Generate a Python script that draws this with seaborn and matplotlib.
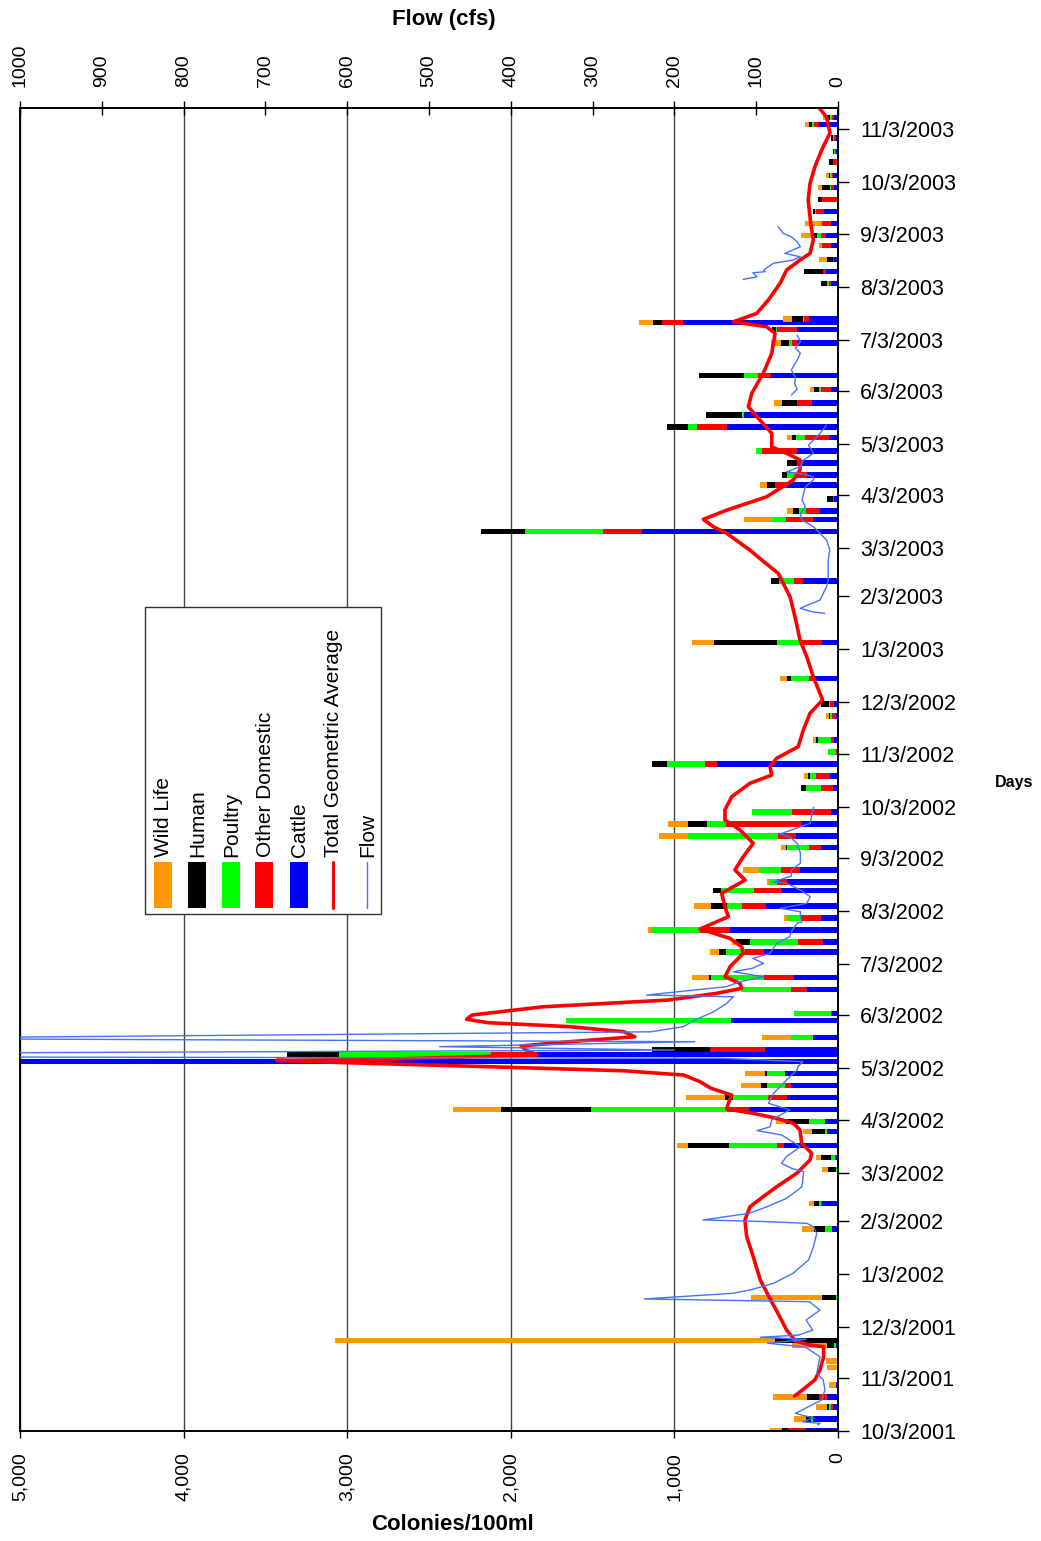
import numpy as np
import pandas as pd
import matplotlib
matplotlib.use("Agg")
import matplotlib.pyplot as plt
import matplotlib.dates as mdates
from matplotlib.patches import Rectangle
from matplotlib.lines import Line2D
import seaborn as sns

# ---------------------------------------------------------------- data
sample_dates = [
    "2001-10-03", "2001-10-10", "2001-10-17", "2001-10-23", "2001-10-30",
    "2001-11-09", "2001-11-13", "2001-11-22", "2001-11-25", "2001-12-20",
    "2002-01-29", "2002-02-13", "2002-03-05", "2002-03-12", "2002-03-19",
    "2002-03-27", "2002-04-02", "2002-04-09", "2002-04-16", "2002-04-23",
    "2002-04-30", "2002-05-07", "2002-05-11", "2002-05-14", "2002-05-21",
    "2002-05-31", "2002-06-04", "2002-06-18", "2002-06-25", "2002-07-10",
    "2002-07-16", "2002-07-23", "2002-07-30", "2002-08-06", "2002-08-15",
    "2002-08-20", "2002-08-27", "2002-09-09", "2002-09-16", "2002-09-23",
    "2002-09-30", "2002-10-14", "2002-10-21", "2002-10-28", "2002-11-04",
    "2002-11-11", "2002-11-25", "2002-12-02", "2002-12-17", "2003-01-07",
    "2003-02-12", "2003-03-13", "2003-03-20", "2003-03-25", "2003-04-01",
    "2003-04-09", "2003-04-15", "2003-04-22", "2003-04-29", "2003-05-07",
    "2003-05-13", "2003-05-20", "2003-05-27", "2003-06-04", "2003-06-12",
    "2003-07-01", "2003-07-09", "2003-07-13", "2003-07-15", "2003-08-05",
    "2003-08-12", "2003-08-19", "2003-08-27", "2003-09-02", "2003-09-09",
    "2003-09-16", "2003-09-23", "2003-09-30", "2003-10-07", "2003-10-15",
    "2003-10-21", "2003-10-29", "2003-11-06", "2003-11-10",
]
cattle = [
    198, 150, 30, 69, 15, 4, 4, 15, 5, 8,
    35, 96, 8, 14, 330, 69, 81, 544, 310, 285,
    326, 5000, 1841, 445, 155, 653, 35, 187, 269, 452,
    90, 660, 106, 442, 350, 310, 232, 102, 259, 218,
    45, 28, 49, 741, 8, 24, 14, 24, 147, 96,
    212, 1196, 151, 110, 24, 310, 187, 218, 253, 55,
    680, 574, 157, 45, 411, 249, 249, 945, 177, 45,
    75, 24, 45, 75, 45, 86, 6, 24, 30, 8,
    10, 14, 116, 24,
]
other_domestic = [
    107, 0, 13, 47, 0, 0, 0, 0, 0, 0,
    0, 10, 0, 6, 45, 0, 0, 136, 118, 41,
    0, 0, 282, 336, 0, 4, 10, 98, 183, 118,
    155, 183, 122, 143, 163, 65, 118, 75, 108, 468,
    234, 77, 88, 73, 6, 20, 20, 24, 31, 132,
    57, 238, 169, 88, 6, 77, 71, 31, 210, 149,
    179, 0, 92, 61, 81, 31, 122, 128, 31, 10,
    14, 4, 51, 31, 51, 51, 90, 20, 6, 20,
    6, 10, 31, 14,
]
poultry = [
    0, 15, 9, 0, 0, 0, 4, 11, 0, 6,
    47, 10, 6, 24, 291, 12, 96, 831, 212, 110,
    110, 0, 929, 0, 130, 1005, 224, 310, 326, 116,
    293, 301, 81, 92, 204, 47, 132, 132, 550, 116,
    244, 92, 35, 232, 45, 77, 14, 6, 112, 147,
    92, 481, 81, 41, 0, 0, 51, 0, 41, 55,
    57, 10, 0, 10, 81, 20, 10, 4, 4, 10,
    4, 0, 10, 20, 4, 4, 4, 6, 14, 4,
    6, 6, 14, 10,
]
human = [
    39, 28, 17, 71, 0, 0, 0, 40, 380, 81,
    65, 31, 47, 61, 251, 75, 143, 550, 53, 33,
    12, 0, 315, 358, 0, 0, 0, 0, 10, 41,
    88, 0, 0, 98, 45, 0, 0, 10, 0, 114,
    0, 31, 12, 88, 0, 14, 6, 51, 24, 383,
    51, 265, 0, 35, 35, 45, 31, 61, 0, 20,
    130, 224, 92, 31, 275, 51, 20, 51, 71, 41,
    114, 41, 0, 41, 0, 10, 20, 45, 6, 20,
    10, 10, 16, 20,
]
wild_life = [
    69, 73, 64, 208, 43, 65, 67, 217, 2689, 438,
    71, 31, 35, 31, 65, 55, 61, 293, 238, 126,
    122, 0, 0, 0, 178, 0, 0, 0, 102, 55,
    24, 20, 24, 106, 0, 14, 96, 31, 177, 126,
    0, 0, 24, 0, 0, 16, 20, 0, 41, 132,
    0, 0, 173, 37, 0, 45, 0, 0, 0, 35,
    0, 0, 51, 24, 0, 61, 0, 86, 51, 0,
    0, 47, 10, 61, 104, 0, 0, 26, 16, 0,
    0, 0, 26, 26,
]

# day counts from the first sampling day
START = "2001-10-03"
gm_day = [
    20.5, 24.0, 29.8, 35.7, 43.4, 49.3, 50.3, 52.6, 59.0, 68.8,
    78.5, 88.3, 101.9, 113.6, 123.4, 131.1, 137.0, 142.8, 150.7, 158.4,
    162.4, 168.2, 176.0, 179.9, 182.8, 185.7, 188.3, 191.6, 196.4, 200.4,
    204.2, 208.1, 210.6, 213.0, 215.3, 216.7, 217.3, 219.8, 222.7, 225.1,
    227.6, 230.5, 233.4, 236.4, 238.7, 240.7, 243.2, 248.0, 252.0, 255.9,
    258.8, 261.7, 265.6, 271.4, 279.3, 283.1, 288.0, 293.5, 300.7, 306.5,
    314.4, 318.2, 322.1, 328.0, 335.8, 343.6, 351.4, 357.2, 363.1, 370.8,
    378.7, 383.5, 388.4, 393.3, 400.1, 409.8, 419.6, 427.4, 441.0, 452.7,
    462.4, 476.1, 487.7, 493.6, 501.4, 509.2, 515.0, 524.8, 528.7, 533.0,
    538.4, 546.2, 556.0, 561.8, 567.7, 571.6, 575.4, 583.3, 591.0, 598.8,
    606.7, 618.4, 630.0, 641.7, 645.6, 648.5, 653.4, 661.2, 671.0, 678.8,
    684.6, 688.5, 696.3, 706.1, 719.7, 729.4, 739.2, 748.9, 758.9, 768.0,
    776.0,
]
gm_value = [
    265, 217, 142, 110, 88, 88, 174, 260, 314, 367,
    422, 475, 518, 558, 569, 538, 457, 375, 252, 171,
    161, 222, 232, 273, 375, 518, 680, 670, 650, 777,
    843, 943, 1308, 2137, 3001, 3431, 2799, 1840, 1907, 1937,
    1640, 1242, 1308, 1640, 2137, 2270, 2237, 1805, 1033, 741,
    589, 599, 691, 660, 579, 589, 660, 843, 670, 691,
    711, 640, 568, 630, 579, 518, 599, 691, 691, 650,
    538, 405, 416, 375, 243, 212, 171, 94, 151, 191,
    232, 263, 293, 324, 365, 466, 538, 680, 762, 823,
    680, 436, 273, 232, 232, 314, 405, 405, 477, 548,
    527, 457, 405, 385, 436, 640, 497, 426, 354, 314,
    232, 171, 151, 167, 182, 171, 141, 100, 49, 69,
    134,
]

# daily flow record; NaN marks periods without gauge data
flow_day = [
    3.5, 4.5, 5.4, 7.6, 10.3, 18.1, 24.0, 29.8, 33.7, 43.4,
    49.1, 51.3, 53.6, 54.8, 56.1, 59.0, 64.9, 70.7, 75.6, 77.2,
    80.5, 82.4, 86.3, 92.2, 100.0, 107.7, 115.6, 119.4, 121.4, 122.4,
    123.4, 127.3, 131.1, 136.0, 142.8, 151.6, 153.6, 156.5, 160.4, 166.2,
    173.1, 175.6, 177.9, 181.8, 185.7, 187.7, 191.6, 197.4, 205.2, 211.1,
    213.0, 215.9, 217.9, 218.8, 220.8, 222.7, 224.7, 227.6, 229.5, 233.4,
    236.4, 240.3, 245.1, 250.0, 253.9, 254.9, 259.8, 262.7, 265.6, 268.5,
    270.5, 273.4, 276.3, 279.3, 285.1, 289.0, 291.9, 296.8, 297.6, 300.7,
    303.6, 305.6, 308.5, 312.4, 316.3, 320.2, 321.1, 324.5, 328.0, 331.9,
    337.9, 343.6, 347.4, 349.0, 355.3, 364.6, np.nan,
    478.0, 479.0, 481.0, 481.9, 485.8, 493.6, 497.5, 509.2, 515.1, 520.9,
    524.8, 528.7, 532.6, 536.5, 540.4, 544.3, 552.1, 556.0, 557.9, 559.5,
    560.8, 563.8, 567.7, 571.6, 576.4, 583.3, 588.1, np.nan,
    605.7, 609.0, 612.5, 616.0, 620.3, 622.0, 626.0, 630.1, 633.0, 637.0,
    640.7, np.nan,
    673.3, 674.8, 677.2, 677.8, 678.8, 682.7, 684.6, 686.5, 688.5, 692.4,
    695.3, 698.2, 700.2, 704.1,
]
flow_cfs = [
    25, 22, 43, 30, 52, 20, 16, 18, 26, 22,
    40, 86, 39, 95, 48, 31, 39, 22, 35, 237,
    129, 108, 79, 55, 36, 30, 26, 30, 38, 87,
    165, 108, 87, 63, 44, 42, 57, 69, 63, 46,
    69, 99, 83, 81, 67, 59, 85, 79, 63, 50,
    49, 43, 142, 1200, 1200, 200, 487, 175, 1200, 229,
    189, 175, 152, 136, 128, 234, 136, 120, 91, 128,
    105, 91, 104, 83, 75, 59, 57, 50, 44, 46,
    46, 71, 38, 34, 46, 63, 79, 57, 57, 46,
    46, 50, 59, 71, 34, 30, np.nan,
    16, 32, 46, 42, 22, 14, 12, 12, 10, 14,
    22, 30, 44, 46, 40, 44, 40, 30, 30, 42,
    63, 46, 42, 30, 36, 22, 14, np.nan,
    57, 50, 53, 52, 57, 55, 50, 46, 52, 46,
    50, np.nan,
    116, 99, 104, 89, 91, 79, 55, 46, 65, 46,
    50, 57, 67, 73,
]

colony_ticks = [0, 1000, 2000, 3000, 4000, 5000]
flow_ticks = [0, 100, 200, 300, 400, 500, 600, 700, 800, 900, 1000]
date_ticks = pd.date_range("2001-10-03", "2003-11-03", freq=pd.DateOffset(months=1))

sources = [
    ("Cattle", cattle, "#0000FF"),
    ("Other Domestic", other_domestic, "#FF0000"),
    ("Poultry", poultry, "#00FF00"),
    ("Human", human, "#000000"),
    ("Wild Life", wild_life, "#FF9900"),
]
GM_COLOR = "#FF0000"
FLOW_COLOR = "#4573FF"

# ---------------------------------------------------------------- style
sns.set_theme(style="white")
plt.rcParams["font.family"] = ["Liberation Sans", "DejaVu Sans"]
plt.rcParams.update({
    "text.color": "black", "xtick.color": "black", "ytick.color": "black",
    "axes.edgecolor": "black", "axes.labelcolor": "black",
})

W, H = 1041, 1541
fig = plt.figure(figsize=(W / 100, H / 100), dpi=100)
ax = fig.add_axes([20 / W, 1 - 1431 / H, 818 / W, 1323 / H])

t0 = mdates.date2num(pd.Timestamp(START))
y_samples = mdates.date2num(pd.to_datetime(sample_dates))

# stacked source contributions, cattle nearest the zero line
left = np.zeros(len(y_samples))
for name, vals, col in sources:
    vals = np.asarray(vals, dtype=float)
    ax.barh(y_samples, vals, left=left, height=3.2, color=col,
            edgecolor="none", linewidth=0, zorder=2)
    left += vals

# total geometric average
gm_y = t0 + np.asarray(gm_day, dtype=float)
sns.lineplot(x=np.asarray(gm_value, dtype=float), y=gm_y, orient="y",
             estimator=None, sort=False, color=GM_COLOR, linewidth=2.6,
             ax=ax, zorder=4, legend=False)

ax.set_xlim(5000, 0)
ax.set_ylim(t0, t0 + 773.5)
ax.set_xlabel("")
ax.set_ylabel("")

ax.set_xticks(colony_ticks)
ax.set_xticklabels([f"{v:,}" for v in colony_ticks])
ax.tick_params(axis="x", bottom=True, top=False, direction="out", length=5,
               width=1, labelsize=14, labelrotation=90, pad=10)
ax.grid(True, axis="x", color="#444444", linewidth=1)
ax.grid(False, axis="y")

ax.set_yticks(mdates.date2num(date_ticks))
ax.set_yticklabels([f"{d.month}/{d.day}/{d.year}" for d in date_ticks])
ax.yaxis.tick_right()
ax.tick_params(axis="y", left=False, right=True, direction="out", length=8,
               width=1, labelsize=15.5, pad=8)
for s in ax.spines.values():
    s.set_color("black")
    s.set_linewidth(1.2)

# flow on a secondary scale sharing the date axis
ax2 = ax.twiny()
ax2.plot(np.asarray(flow_cfs, dtype=float), t0 + np.asarray(flow_day, dtype=float),
         color=FLOW_COLOR, linewidth=1.0, zorder=3)
ax2.set_xlim(1000, 0)
ax2.set_ylim(t0, t0 + 773.5)
ax2.set_xticks(flow_ticks)
ax2.set_xticklabels([str(v) for v in flow_ticks])
ax2.tick_params(axis="x", top=True, bottom=False, labeltop=True, labelbottom=False,
                direction="inout", length=10, width=1, labelsize=14,
                labelrotation=90, pad=10)
ax2.grid(False)
for s in ax2.spines.values():
    s.set_color("black")
    s.set_linewidth(1.2)

# axis titles
fig.text(444 / W, 1 - 20 / H, "Flow (cfs)", ha="center", va="center",
         fontsize=16, fontweight="bold")
fig.text(452 / W, 1 - 1524 / H, "Colonies/100ml", ha="center", va="center",
         fontsize=16, fontweight="bold")
fig.text(1014 / W, 1 - 782 / H, "Days", ha="center", va="center",
         fontsize=11.5, fontweight="bold")

# legend with vertical entries
fig.add_artist(Rectangle((145 / W, 1 - 914 / H), 236 / W, 307 / H,
                         transform=fig.transFigure, facecolor="white",
                         edgecolor="#333333", linewidth=1, zorder=10))
legend_items = [
    ("Wild Life", "#FF9900", "bar"),
    ("Human", "#000000", "bar"),
    ("Poultry", "#00FF00", "bar"),
    ("Other Domestic", "#FF0000", "bar"),
    ("Cattle", "#0000FF", "bar"),
    ("Total Geometric Average", GM_COLOR, "gm"),
    ("Flow", FLOW_COLOR, "flow"),
]
for i, (label, col, kind) in enumerate(legend_items):
    cx = (162.5 + 34 * i) / W
    if kind == "bar":
        fig.add_artist(Rectangle((cx - 9 / W, 1 - 908 / H), 18 / W, 46 / H,
                                 transform=fig.transFigure, facecolor=col,
                                 edgecolor="none", zorder=11))
    else:
        lw = 2.2 if kind == "gm" else 1.0
        fig.add_artist(Line2D([cx, cx], [1 - 908 / H, 1 - 862 / H],
                              transform=fig.transFigure, color=col,
                              linewidth=lw, zorder=11))
    fig.text(cx + 1 / W, 1 - 857 / H, label, rotation=90, ha="center",
             va="bottom", fontsize=15, zorder=12)

fig.savefig("out.png", dpi=100, facecolor="white")
